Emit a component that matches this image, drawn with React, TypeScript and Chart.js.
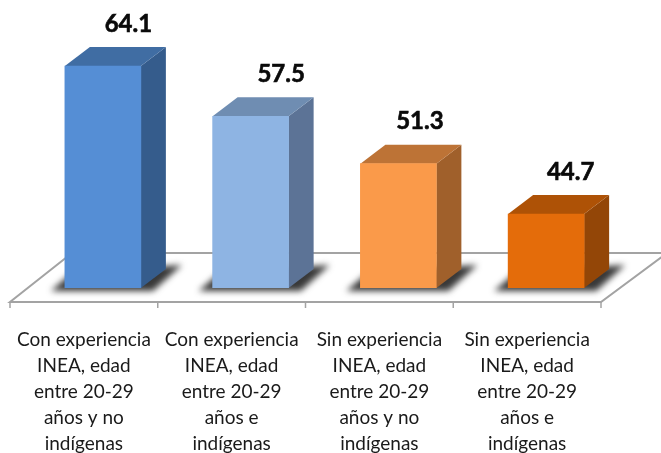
import React, { useEffect, useRef } from "react";
import { Chart, registerables } from "chart.js";

Chart.register(...registerables);

const categories = [
  ["Con experiencia", "INEA, edad", "entre 20-29", "años y no", "indígenas"],
  ["Con experiencia", "INEA, edad", "entre 20-29", "años e", "indígenas"],
  ["Sin experiencia", "INEA, edad", "entre 20-29", "años y no", "indígenas"],
  ["Sin experiencia", "INEA, edad", "entre 20-29", "años e", "indígenas"],
];
const values = [64.1, 57.5, 51.3, 44.7];
const frontColors = ["#558ed5", "#8eb4e3", "#fa9a4a", "#e46c0a"];
const sideColors = ["#355c8c", "#5c7396", "#a0602b", "#934607"];
const topColors = ["#406da3", "#6f8db2", "#bd7336", "#ae5206"];
const labelShiftX = [25.5, 30.5, 21.5, 24.5];
const AXIS_MIN = 35;
const DEPTH_X = 25;
const DEPTH_Y = 19;
const LINE = "#a3a3a3";

const poly = (ctx: CanvasRenderingContext2D, pts: number[][], fill: string) => {
  ctx.beginPath();
  pts.forEach(([x, y], i) => (i ? ctx.lineTo(x, y) : ctx.moveTo(x, y)));
  ctx.closePath();
  ctx.fillStyle = fill;
  ctx.fill();
};

const floorPlugin = {
  id: "floor3d",
  beforeDatasetsDraw(chart: any) {
    const { ctx, scales } = chart;
    const base = scales.y.getPixelForValue(scales.y.min);
    const xs = scales.x;
    const step = xs.getPixelForTick(1) - xs.getPixelForTick(0);
    const left = xs.getPixelForTick(0) - step / 2 - 19;
    const right = left + step * values.length;
    const front = base + 14;
    const back = base - 35;
    ctx.save();
    ctx.strokeStyle = LINE;
    ctx.lineWidth = 2;
    ctx.beginPath();
    ctx.moveTo(left, front);
    ctx.lineTo(right, front);
    ctx.lineTo(right + 66, back);
    ctx.lineTo(left + 62, back);
    ctx.closePath();
    ctx.stroke();
    ctx.lineWidth = 1.5;
    for (let i = 0; i <= values.length; i++) {
      const x = left + step * i;
      ctx.beginPath();
      ctx.moveTo(x, front);
      ctx.lineTo(x, front + 6);
      ctx.stroke();
    }
    ctx.restore();

    const meta = chart.getDatasetMeta(0);
    meta.data.forEach((bar: any, i: number) => {
      const l = bar.x - bar.width / 2;
      const r = bar.x + bar.width / 2;
      const t = bar.y;
      const b = bar.base;
      ctx.save();
      ctx.filter = "blur(3px)";
      poly(ctx, [[l - 14, b + 3], [l + 8, b - 16], [r + 41, b - 23], [r + 12, b + 3]], "rgba(45,45,45,0.95)");
      ctx.restore();
      poly(ctx, [[r, t], [r + DEPTH_X, t - DEPTH_Y], [r + DEPTH_X, b - DEPTH_Y], [r, b]], sideColors[i]);
      poly(ctx, [[l, t], [l + DEPTH_X, t - DEPTH_Y], [r + DEPTH_X, t - DEPTH_Y], [r, t]], topColors[i]);
    });
  },
  afterDatasetsDraw(chart: any) {
    const { ctx } = chart;
    const meta = chart.getDatasetMeta(0);
    ctx.save();
    ctx.font = "bold 24px Lato";
    ctx.fillStyle = "#0a0a0a";
    ctx.strokeStyle = "#0a0a0a";
    ctx.lineWidth = 0.6;
    ctx.textAlign = "center";
    ctx.textBaseline = "middle";
    meta.data.forEach((bar: any, i: number) => {
      const label = values[i].toFixed(1);
      ctx.fillText(label, bar.x + labelShiftX[i], bar.y - 42);
      ctx.strokeText(label, bar.x + labelShiftX[i], bar.y - 42);
    });
    ctx.restore();
  },
};

export default function App() {
  const ref = useRef<HTMLCanvasElement>(null);
  useEffect(() => {
    const chart = new Chart(ref.current!, {
      type: "bar",
      data: {
        labels: categories,
        datasets: [
          {
            data: values,
            base: AXIS_MIN,
            backgroundColor: frontColors,
            borderWidth: 0,
            barThickness: 76,
          },
        ],
      },
      options: {
        responsive: false,
        animation: false,
        layout: { padding: { left: 29, right: 41, top: 0, bottom: 0 } },
        plugins: { legend: { display: false }, title: { display: false }, tooltip: { enabled: false } },
        scales: {
          y: { display: false, min: AXIS_MIN, max: 72.75 },
          x: {
            grid: { display: false },
            border: { display: false },
            afterFit: (s: any) => {
              s.height = 165;
            },
            ticks: {
              autoSkip: false,
              maxRotation: 0,
              padding: 31,
              labelOffset: -19,
              color: "#1a1a1a",
              font: { family: "Lato", size: 19, lineHeight: "26px" },
            },
          },
        },
      },
      plugins: [floorPlugin],
    } as any);
    return () => chart.destroy();
  }, []);
  return (
    <div style={{ position: "absolute", left: 0, top: 0, width: 661, height: 453 }}>
      <canvas ref={ref} width={661} height={453} style={{ display: "block" }} />
    </div>
  );
}
